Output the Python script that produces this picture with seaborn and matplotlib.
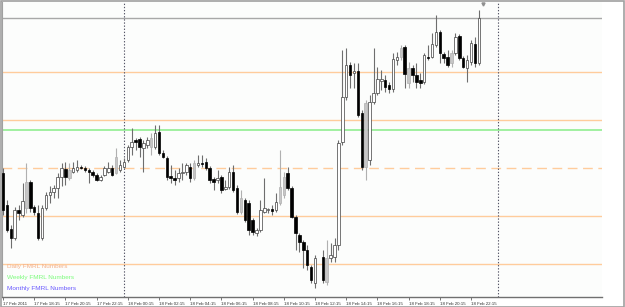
import numpy as np
import pandas as pd
import matplotlib
matplotlib.use("Agg")
import matplotlib.pyplot as plt
from matplotlib.patches import Rectangle
import seaborn as sns

# ---------------- data (M15 bars, 17 Feb 2011 16:15 -> 18 Feb 22:45) ----------------
tick_labels = ["17 Feb 2011", "17 Feb 18:15", "17 Feb 20:15", "17 Feb 22:15",
               "18 Feb 00:15", "18 Feb 02:15", "18 Feb 04:15", "18 Feb 06:15",
               "18 Feb 08:15", "18 Feb 10:15", "18 Feb 12:15", "18 Feb 14:15",
               "18 Feb 16:15", "18 Feb 18:15", "18 Feb 20:15", "18 Feb 22:15"]
tick_bars = [0, 8, 16, 24, 32, 40, 48, 56, 64, 72, 80, 88, 96, 104, 112, 120]
day_separators = [31, 127]
shift_marker_bar = 123.1

opens = [127, 95, 71, 62, 90, 85, 92, 118, 93, 87, 62, 92, 105, 108, 112, 123, 131, 122, 128, 130,
         133, 132, 130, 128, 125, 120, 125, 128, 132, 127, 130, 133, 140, 153, 160, 161, 152, 155, 153, 153,
         168, 147, 142, 124, 122, 122, 127, 128, 133, 122, 135, 137, 138, 132, 121, 120, 123, 111, 113, 128,
         112, 88, 100, 97, 80, 67, 70, 88, 90, 91, 90, 97, 105, 127, 112, 83, 65, 58, 50, 33,
         17, np.nan, 43, 18, 42, 43, 55, 158, 203, 235, 227, 229, 187, 133, 140, 198, 207, 219, 220, 215,
         211, 240, 243, 253, 217, 232, 225, 220, 218, 243, 243, 255, 268, 246, 243, 237, 247, 264, 242, 232,
         238, 256, 237]
highs = [132, 100, 75, 93, 95, 117, 137, 120, 95, 95, 95, 108, 114, 115, 127, 137, 138, 137, 138, 140,
         135, 134, 132, 130, 127, 125, 134, 138, 135, 152, 140, 142, 155, 172, 162, 163, 160, 163, 167, 175,
         175, 150, 144, 135, 130, 132, 137, 137, 137, 140, 145, 145, 142, 134, 123, 130, 125, 120, 133, 135,
         115, 110, 102, 100, 82, 72, 100, 122, 92, 95, 107, 150, 128, 133, 114, 85, 67, 60, 55, 35,
         45, np.nan, 50, 60, 57, 62, 160, 250, 252, 238, 237, 237, 190, 200, 205, 252, 233, 230, 225, 218,
         247, 248, 255, 255, 238, 235, 237, 227, 247, 255, 267, 285, 270, 248, 250, 250, 267, 266, 244, 245,
         260, 263, 290]
lows = [85, 68, 52, 60, 80, 83, 87, 88, 85, 60, 60, 90, 97, 102, 102, 114, 115, 120, 127, 128,
        131, 128, 117, 123, 119, 119, 124, 127, 124, 126, 128, 132, 138, 145, 150, 143, 128, 152, 145, 151,
        145, 142, 120, 117, 115, 118, 120, 125, 118, 120, 133, 133, 130, 117, 110, 117, 107, 110, 111, 108,
        86, 86, 78, 65, 65, 64, 68, 87, 87, 85, 88, 95, 102, 110, 82, 50, 48, 32, 30, 17,
        12, np.nan, 17, 15, 38, 38, 50, 155, 200, 212, 212, 183, 130, 120, 135, 196, 205, 210, 208, 207,
        208, 235, 240, 212, 212, 218, 212, 212, 216, 240, 242, 253, 237, 237, 233, 233, 245, 240, 232, 218,
        235, 233, 235]
closes = [90, 70, 62, 90, 87, 99, 118, 92, 88, 62, 92, 105, 108, 112, 123, 132, 123, 130, 132, 133,
          132, 130, 128, 125, 120, 123, 132, 132, 125, 143, 135, 138, 153, 158, 158, 153, 157, 160, 162, 167,
          147, 143, 123, 122, 120, 127, 128, 135, 122, 137, 137, 136, 132, 120, 118, 122, 110, 113, 128, 110,
          88, 102, 80, 70, 68, 70, 90, 92, 90, 89, 98, 113, 123, 112, 83, 67, 58, 50, 35, 20,
          42, np.nan, 20, 42, 45, 55, 157, 203, 235, 225, 229, 185, 133, 197, 198, 207, 221, 221, 213, 211,
          241, 243, 252, 226, 232, 225, 218, 217, 245, 242, 256, 268, 247, 242, 235, 247, 263, 242, 233, 240,
          257, 237, 282]
shaded_bars = [6, 17, 29, 38, 49, 61, 71, 72, 83, 93, 102, 104, 115]

daily_levels = [228, 180, 84, 36]
daily_mid_level = 132
weekly_levels = [170]
bid_price = 282

legend_names = ["Daily FMRL Numbers", "Weekly FMRL Numbers", "Monthly FMRL Numbers"]
legend_colors = ["#F4B08A", "#7CFC7C", "#6A5AFF"]

# ---------------- figure ----------------
sns.set_theme(style="white")
plt.rcParams["font.family"] = ["Liberation Sans", "DejaVu Sans"]

W, H = 625, 307
fig = plt.figure(figsize=(W / 100, H / 100), dpi=100)
fig.patch.set_facecolor("#FFFFFF")
ax = fig.add_axes([2 / W, (H - 297) / H, 600 / W, 295 / H])
ax.set_facecolor("#FCFDFC")

df = pd.DataFrame({"bar": np.arange(len(opens)), "open": opens, "high": highs,
                   "low": lows, "close": closes}).dropna()
df["shaded"] = df["bar"].isin(shaded_bars)

# level lines
for lv in daily_levels:
    ax.axhline(lv, color="#FFCC9C", lw=1.0, zorder=1)
ax.axhline(daily_mid_level, color="#FFCC9C", lw=1.0, dashes=(7, 4), zorder=1)
for lv in weekly_levels:
    ax.axhline(lv, color="#90EE90", lw=1.2, zorder=1)
ax.axhline(bid_price, color="#A8A8A8", lw=1.0, zorder=1)

for d in day_separators:
    ax.axvline(d, color="#555566", lw=0.8, dashes=(1.2, 1.6), zorder=1.5)

# candles
for _, r in df.iterrows():
    up = r["close"] >= r["open"]
    if r["shaded"]:
        fill, edge, wick = "#C6C6C6", "#B0B0B0", "#B0B0B0"
    elif up:
        fill, edge, wick = "#FFFFFF", "#404040", "#6E6E6E"
    else:
        fill, edge, wick = "#000000", "#000000", "#6E6E6E"
    ax.vlines(r["bar"], r["low"], r["high"], color=wick, lw=0.8, zorder=2)
    lo, hi = min(r["open"], r["close"]), max(r["open"], r["close"])
    ax.bar(r["bar"], max(hi - lo, 1.0), bottom=lo, width=0.62, color=fill,
           edgecolor=edge, linewidth=0.5, zorder=3)

ax.plot([shift_marker_bar], [296.5], marker="v", ms=2.2, color="#909090",
        clip_on=False, zorder=4)

# legend texts
for k, (name, col) in enumerate(zip(legend_names, legend_colors)):
    ax.text(5 / 600, (297 - (266.5 + 11.2 * k)) / 295, name, color=col,
            fontsize=4.6, transform=ax.transAxes, va="center", ha="left")

ax.set_xlim((2 - 3) / 3.9, (602 - 3) / 3.9)
ax.set_ylim(3, 298)
ax.set_xticks(tick_bars)
ax.set_xticklabels(tick_labels)
for lab in ax.get_xticklabels():
    lab.set_horizontalalignment("left")
ax.tick_params(axis="x", direction="out", length=2.5, width=0.6, color="#606060",
               labelsize=3.2, pad=0.8, labelcolor="#333333", bottom=True)
ax.set_yticks([])
ax.set_xlabel("")
ax.set_ylabel("")
for s in ["top", "right"]:
    ax.spines[s].set_visible(False)
ax.spines["bottom"].set_color("#707070")
ax.spines["bottom"].set_linewidth(1.0)
ax.spines["left"].set_color("#A0A0A0")
ax.spines["left"].set_linewidth(0.8)

# outer frame
fig.patches.append(Rectangle((0.5 / W, 0.5 / H), 1 - 1.5 / W, 1 - 1.5 / H,
                             transform=fig.transFigure, fill=False,
                             edgecolor="#A0A0A0", lw=1.2))
fig.savefig("out.png", dpi=100)
